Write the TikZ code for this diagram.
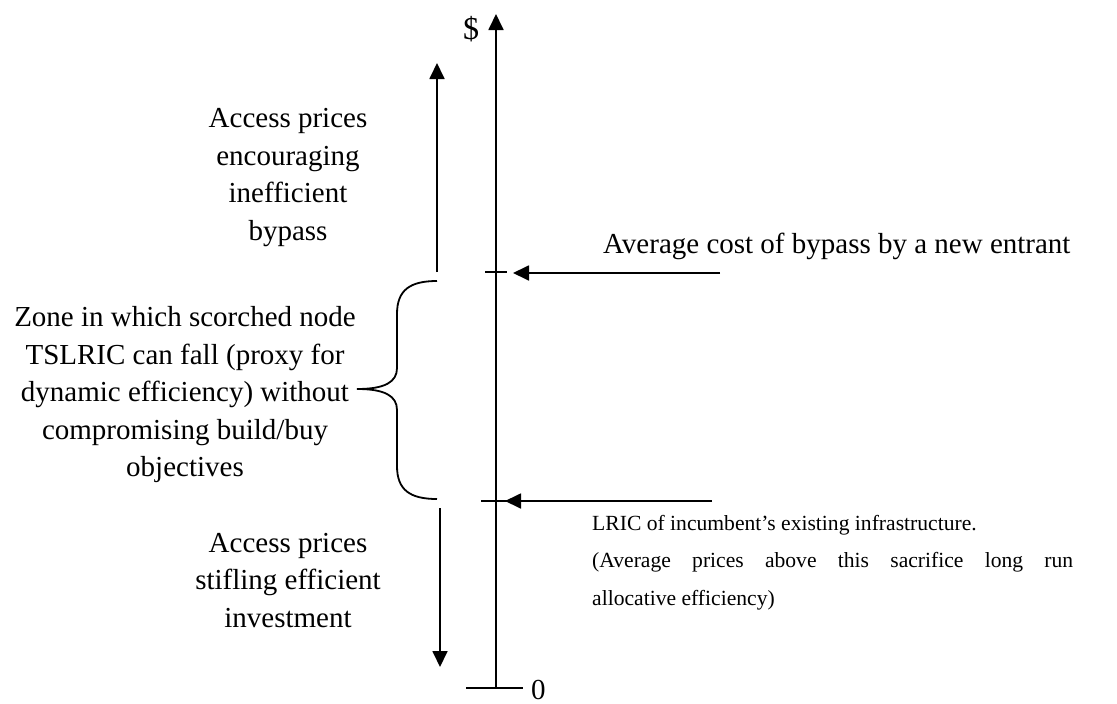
\documentclass[tikz,border=0pt]{standalone}
\usepackage{fontspec}
\setmainfont{Liberation Serif}
\usetikzlibrary{arrows.meta}
\begin{document}
\begin{tikzpicture}[x=1pt,y=-1pt,
  ax/.style={line width=1.8pt},
  arr/.style={line width=1.8pt,-{Triangle[width=15pt,length=16pt]}},
  lbl/.style={inner sep=0pt,font=\fontsize{29}{37.5}\selectfont,align=center},
]
\useasboundingbox (0,0) rectangle (1117,704);
% axis
\coordinate (O) at (496,688);
\coordinate (Top) at (496,14);
\draw[arr] (O) -- (Top);
\coordinate (zl) at (466,688);
\coordinate (zr) at (523,688);
\draw[ax] (zl) -- (zr);
\node[lbl,font=\fontsize{32}{36}\selectfont] (dollar) at (471,29) {\$};
\node[lbl,anchor=base west] (zero) at (531,699) {0};
% ticks
\coordinate (t1l) at (485,272);
\coordinate (t1r) at (507,272);
\draw[ax] (t1l) -- (t1r);
\coordinate (t2l) at (481,501);
\coordinate (t2r) at (509,501);
\draw[ax] (t2l) -- (t2r);
% horizontal arrows
\coordinate (a1s) at (720,273);
\coordinate (a1e) at (513,273);
\draw[arr] (a1s) -- (a1e);
\coordinate (a2s) at (712,501);
\coordinate (a2e) at (505,501);
\draw[arr] (a2s) -- (a2e);
% vertical arrows
\coordinate (u1) at (437,272);
\coordinate (u2) at (437,63);
\draw[arr] (u1) -- (u2);
\coordinate (d1) at (440,508);
\coordinate (d2) at (440,667);
\draw[arr] (d1) -- (d2);
% brace
\coordinate (bt) at (437,281);
\coordinate (bm) at (357,389);
\coordinate (bb) at (437,499);
\draw[ax] (bt) .. controls (410,281) and (397,290) .. (397,314) -- (397,368)
  .. controls (397,382) and (385,389) .. (bm)
  .. controls (385,389) and (397,396) .. (397,410) -- (397,466)
  .. controls (397,490) and (410,499) .. (bb);
% labels
\node[lbl] (up) at (288,177.4) {Access prices\\encouraging\\inefficient\\bypass};
\node[lbl] (zone) at (185,395) {Zone in which scorched node\\TSLRIC can fall (proxy for\\dynamic efficiency) without\\compromising build/buy\\objectives};
\node[lbl] (down) at (288,580.5) {Access prices\\stifling efficient\\investment};
\node[lbl,anchor=base west] (bypass) at (603,253) {Average cost of bypass by a new entrant};
\node[inner sep=0pt,anchor=north west,text width=481pt,align=justify,
  font=\fontsize{21.6}{37.5}\selectfont] (lric) at (592,515)
  {\hbadness=10000 LRIC of incumbent’s existing infrastructure.\par
   (Average prices above this sacrifice long run\linebreak allocative efficiency)};
\end{tikzpicture}
\end{document}
